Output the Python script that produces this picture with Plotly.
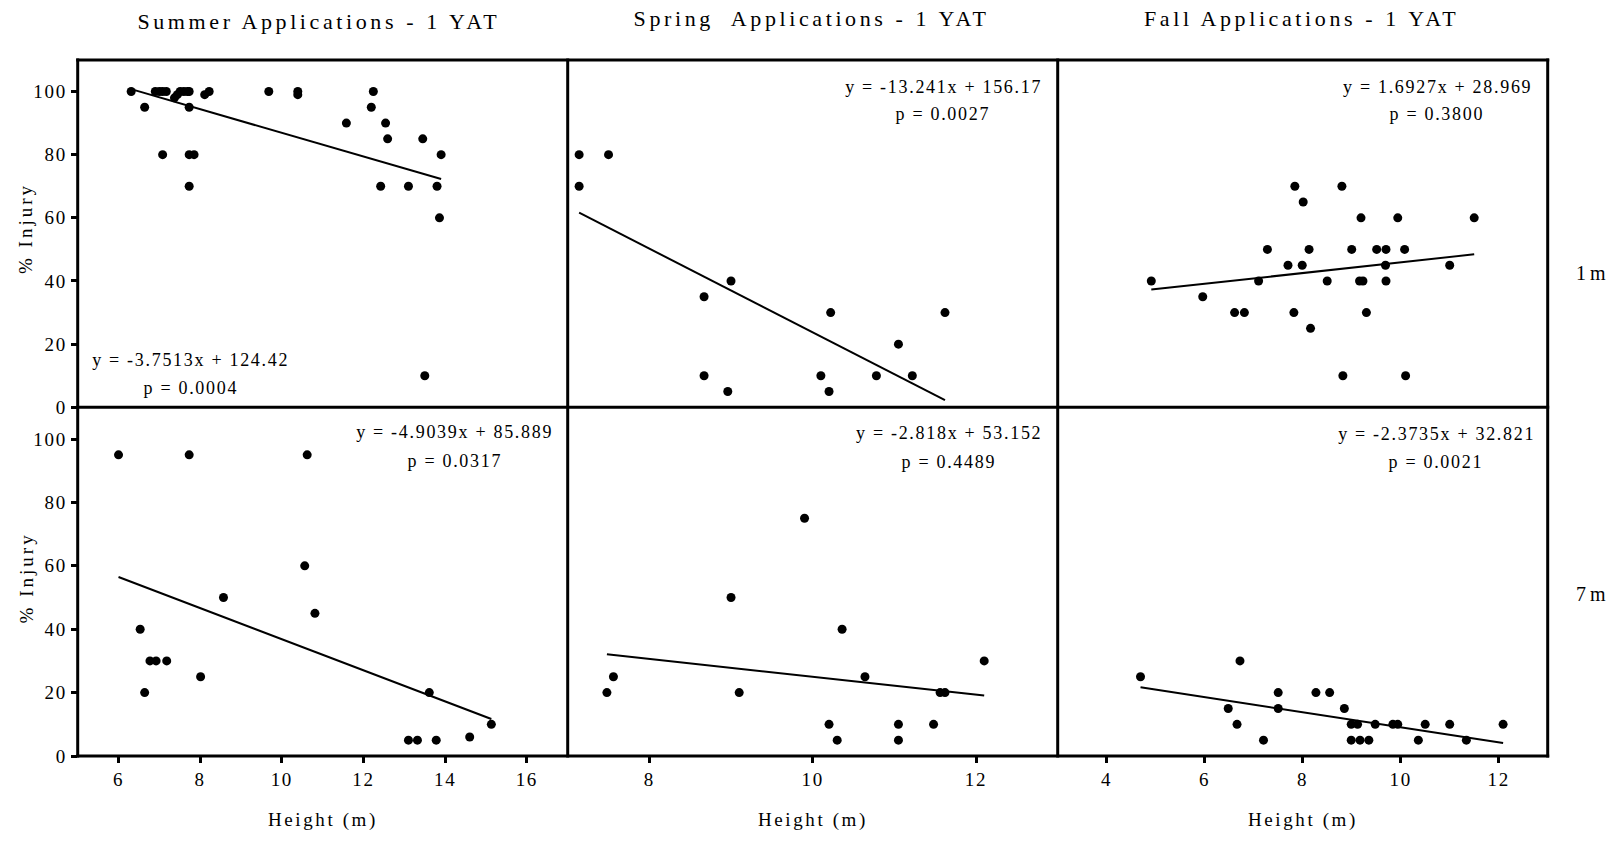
import plotly.graph_objects as go

# ---------------- data ----------------
titles = ["Summer Applications - 1 YAT", "Spring  Applications - 1 YAT", "Fall Applications - 1 YAT"]
row_labels = ["1m", "7m"]

summer_1m_x = [6.31, 6.64, 6.9, 7.0, 7.08, 7.17, 7.08, 7.37, 7.44, 7.51, 7.6, 7.69, 7.73, 7.73, 7.73, 7.85, 7.73,
               8.11, 8.22, 9.68, 10.39, 10.39, 11.58, 12.19, 12.24, 12.42, 12.54, 12.59, 13.1, 13.45, 13.5, 13.8, 13.86, 13.9]
summer_1m_y = [100, 95, 100, 100, 100, 100, 80, 98, 99, 100, 100, 100, 100, 95, 80, 80, 70,
               99, 100, 100, 100, 99, 90, 95, 100, 70, 90, 85, 70, 85, 10, 70, 60, 80]

spring_1m_x = [7.14, 7.50, 7.14, 8.67, 9.0, 8.67, 8.96, 10.22, 10.1, 10.2, 10.78, 11.05, 11.22, 11.62]
spring_1m_y = [80, 80, 70, 35, 40, 10, 5, 30, 10, 5, 10, 20, 10, 30]

fall_1m_x = [4.91, 5.96, 6.61, 6.81, 7.10, 7.28, 7.70, 7.84, 7.82, 7.99, 8.01, 8.13, 8.16, 8.50, 8.80, 8.82, 9.0,
             9.16, 9.23, 9.19, 9.30, 9.51, 9.70, 9.69, 9.70, 9.94, 10.08, 10.10, 11.0, 11.5]
fall_1m_y = [40, 35, 30, 30, 40, 50, 45, 70, 30, 45, 65, 50, 25, 40, 70, 10, 50,
             40, 40, 60, 30, 50, 50, 45, 40, 60, 50, 10, 45, 60]

summer_7m_x = [6.0, 7.73, 10.62, 10.56, 8.57, 10.81, 6.53, 6.77, 6.92, 7.18, 6.64, 8.01, 13.61, 15.13, 13.1, 13.32, 13.78, 14.6]
summer_7m_y = [95, 95, 95, 60, 50, 45, 40, 30, 30, 30, 20, 25, 20, 10, 5, 5, 5, 6]

spring_7m_x = [7.48, 7.56, 9.0, 9.10, 9.90, 10.2, 10.3, 10.36, 10.64, 11.05, 11.05, 11.48, 11.56, 11.62, 12.10]
spring_7m_y = [20, 25, 50, 20, 75, 10, 5, 40, 25, 10, 5, 10, 20, 20, 30]

fall_7m_x = [4.69, 6.48, 6.66, 6.72, 7.2, 7.50, 7.50, 8.27, 8.55, 8.85, 8.99, 9.12, 8.99, 9.17, 9.35, 9.48,
             9.84, 9.94, 10.36, 10.5, 11.0, 11.34, 12.09]
fall_7m_y = [25, 15, 10, 30, 5, 20, 15, 20, 20, 15, 10, 10, 5, 5, 5, 10,
             10, 10, 5, 10, 10, 5, 10]

slopes = [-3.7513, -13.241, 1.6927, -4.9039, -2.818, -2.3735]
intercepts = [124.42, 156.17, 28.969, 85.889, 53.152, 32.821]
eq_labels = ["y = -3.7513x + 124.42", "y = -13.241x + 156.17", "y = 1.6927x + 28.969",
             "y = -4.9039x + 85.889", "y = -2.818x + 53.152", "y = -2.3735x + 32.821"]
p_labels = ["p = 0.0004", "p = 0.0027", "p = 0.3800", "p = 0.0317", "p = 0.4489", "p = 0.0021"]

xs = [summer_1m_x, spring_1m_x, fall_1m_x, summer_7m_x, spring_7m_x, fall_7m_x]
ys = [summer_1m_y, spring_1m_y, fall_1m_y, summer_7m_y, spring_7m_y, fall_7m_y]

x_ranges = [[5, 17], [7, 13], [3, 13]]
y_range = [0, 110]

# ---------------- layout geometry ----------------
W, H = 1619, 844
FONT = "Liberation Serif, Times New Roman, serif"


def px(x):
    return x / W


def py(y):
    return 1 - y / H


col_px = [77.7, 567.7, 1057.7, 1547.7]
row_px = [60.7, 412.7, 766.0]

fig = go.Figure()
layout = dict(
    width=W, height=H, margin=dict(l=0, r=0, t=0, b=0),
    paper_bgcolor="white", plot_bgcolor="white", showlegend=False,
    font=dict(family=FONT, color="black", size=18),
)

for k in range(6):
    r, c = divmod(k, 3)
    sfx = "" if k == 0 else str(k + 1)
    xa, ya = "x" + sfx, "y" + sfx
    fig.add_trace(go.Scatter(x=xs[k], y=ys[k], mode="markers", xaxis=xa, yaxis=ya,
                             marker=dict(size=9, color="black"), hoverinfo="x+y"))
    x0, x1 = min(xs[k]), max(xs[k])
    fig.add_trace(go.Scatter(x=[x0, x1], y=[slopes[k] * x0 + intercepts[k], slopes[k] * x1 + intercepts[k]],
                             mode="lines", xaxis=xa, yaxis=ya, line=dict(color="black", width=2),
                             hoverinfo="skip"))
    xd = [px(col_px[c]), px(col_px[c + 1])]
    yd = [py(row_px[r + 1]), py(row_px[r])]
    bottom = r == 1
    left = c == 0
    layout["xaxis" + sfx] = dict(
        domain=xd, range=x_ranges[c], anchor=ya, showgrid=False, zeroline=False, showline=False,
        ticks="outside" if bottom else "", ticklen=6, tickwidth=3, tickcolor="black",
        dtick=2, showticklabels=bottom, tickfont=dict(family=FONT, size=19, color="black"),
    )
    layout["yaxis" + sfx] = dict(
        domain=yd, range=y_range, anchor=xa, showgrid=False, zeroline=False, showline=False,
        ticks="outside" if left else "", ticklen=6, tickwidth=3, tickcolor="black",
        dtick=20, showticklabels=left, tickfont=dict(family=FONT, size=19, color="black"),
    )

# panel frame lines (single 3px lines shared between neighbouring panels)
shapes = []
for yv in row_px:
    shapes.append(dict(type="line", xref="paper", yref="paper", x0=px(col_px[0] - 1.5), x1=px(col_px[-1] + 1.5),
                       y0=py(yv), y1=py(yv), line=dict(color="black", width=3), layer="above"))
for xv in col_px:
    shapes.append(dict(type="line", xref="paper", yref="paper", x0=px(xv), x1=px(xv),
                       y0=py(row_px[0] - 1.5), y1=py(row_px[-1] + 1.5), line=dict(color="black", width=3),
                       layer="above"))
layout["shapes"] = shapes

annotations = []


def ann(text, x, y, size, angle=0):
    annotations.append(dict(text=text, x=px(x), y=py(y), xref="paper", yref="paper",
                            xanchor="center", yanchor="middle", showarrow=False, textangle=angle,
                            font=dict(family=FONT, size=size, color="black")))


# column titles
ann(titles[0], 319.2, 21.3, 22)
ann(titles[1], 811.6, 18.6, 22)
ann(titles[2], 1302.0, 18.6, 22)
# row labels
ann(row_labels[0], 1593, 277, 20)
ann(row_labels[1], 1593, 601.7, 20)
# axis titles
ann("% Injury", 26, 231, 19, -90)
ann("% Injury", 26, 585, 19, -90)
for xc in (322.7, 812.7, 1302.7):
    ann("Height (m)", xc, 831, 19)
# equations
eq_pos = [(190.5, 365, 392.7), (943.3, 87.7, 116), (1437.3, 87.7, 116),
          (454.6, 437.3, 466.7), (949.1, 439, 468.3), (1436.2, 439.3, 468)]
for k, (xc, ye, yp) in enumerate(eq_pos):
    ann(eq_labels[k], xc, ye, 18)
    ann(p_labels[k], xc, yp, 18)

layout["annotations"] = annotations
fig.update_layout(**layout)

post = """
var gd = document.getElementById('{plot_id}');
function applySpacing(){
  gd.querySelectorAll('text').forEach(function(t){
    var s = t.textContent || '';
    var v = '1.7px';
    if (/Applications/.test(s)) v = '3.6px';
    else if (/Injury/.test(s)) v = '3px';
    else if (/Height/.test(s)) v = '2.6px';
    else if (/^[17]m$/.test(s)) v = '4px';
    t.style.letterSpacing = v;
  });
}
applySpacing();
if (gd.on) { gd.on('plotly_afterplot', applySpacing); }
"""

fig.write_html("out.html", post_script=post)
